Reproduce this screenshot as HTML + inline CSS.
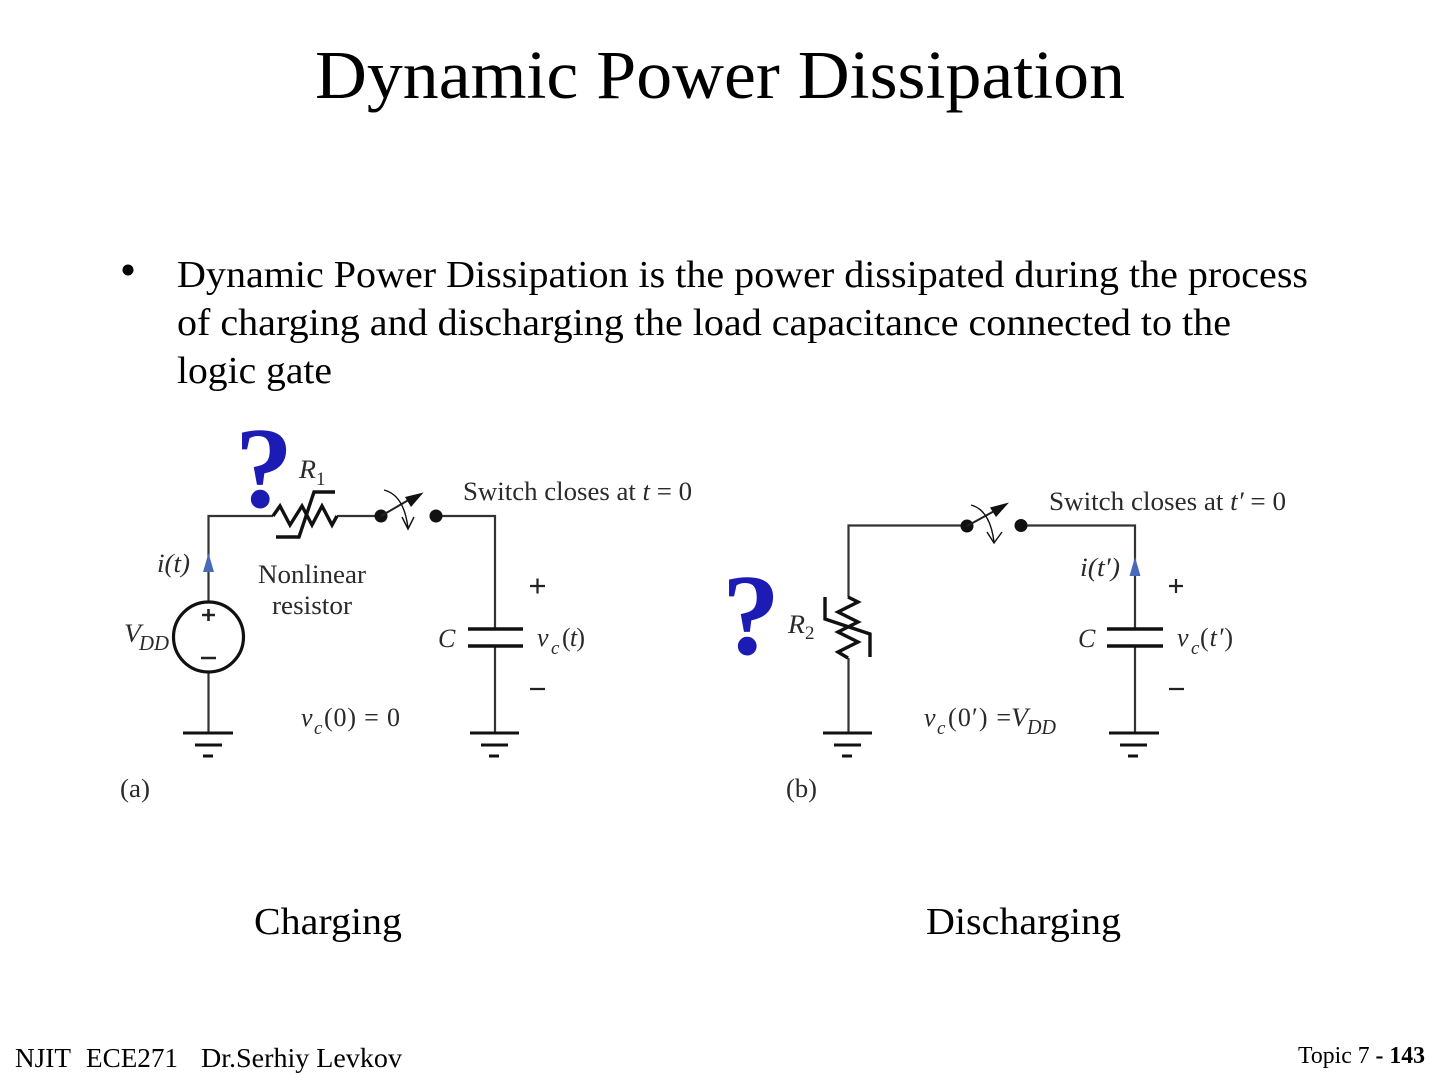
<!DOCTYPE html>
<html>
<head>
<meta charset="utf-8">
<title>Dynamic Power Dissipation</title>
<style>
html,body{margin:0;padding:0;background:#fff;}
svg{display:block;width:1440px;height:1080px;}
text{font-family:"Liberation Serif",serif;fill:#000;}
.d{filter:blur(.35px);}
.d text{fill:#2a2a2a;font-size:26px;}
.d text.s{font-size:19px;}
.d text.m{font-size:21px;}
.w{fill:none;stroke:#333;stroke-width:2.2;}
.t{fill:none;stroke:#111;stroke-width:3.4;}
.i{font-style:italic;}
</style>
</head>
<body>
<svg xmlns="http://www.w3.org/2000/svg" width="1440" height="1080" viewBox="0 0 1440 1080">
<rect width="1440" height="1080" fill="#fff"/>

<text x="315" y="98" font-size="69" textLength="810" lengthAdjust="spacingAndGlyphs">Dynamic Power Dissipation</text>
<circle cx="128" cy="270" r="5.5" fill="#000"/>
<text x="177" y="287" font-size="38" textLength="1131" lengthAdjust="spacingAndGlyphs">Dynamic Power Dissipation is the power dissipated during the process</text>
<text x="177" y="335" font-size="38" textLength="1054" lengthAdjust="spacingAndGlyphs">of charging and discharging the load capacitance connected to the</text>
<text x="177" y="383" font-size="38" textLength="155" lengthAdjust="spacingAndGlyphs">logic gate</text>

<g class="d">
  <!-- circuit a -->
  <path class="w" d="M208.5 601V516H273M337 516H381M436 516H495V629M495 646V733M208.5 672V733"/>
  <path class="t" d="M273 516L280 506L290 525L302 506L312 525L322 506L332 525L337 516"/>
  <path class="t" d="M276 537H299L314 492H335"/>
  <circle cx="381" cy="516" r="6.5" fill="#111"/>
  <circle cx="436" cy="516" r="6.5" fill="#111"/>
  <path d="M381 516L412 498" stroke="#222" stroke-width="2" fill="none"/>
  <path d="M423.500 492.500L405 497L411 507Z" fill="#111"/>
  <path d="M384 490Q404 495 408 528M402 517L408 529L414 517" fill="none" stroke="#111" stroke-width="1.400"/>
  <circle cx="208.500" cy="637" r="35" fill="none" stroke="#111" stroke-width="3.200"/>
  <path d="M202 615H215M208.500 609V621M201 658H216" stroke="#222" stroke-width="2.600" fill="none"/>
  <path d="M208.500 553L214 572H203Z" fill="#4a69b8"/>
  <path d="M468 629H523M468 646H523" stroke="#111" stroke-width="3.400"/>
  <path d="M183 733H233M195 745H222M203 756H213M470 733H519M481 745H508M489 756H499" stroke="#111" stroke-width="3"/>
  <path d="M530 586H545M537.500 578.500V593.500M530 689H545" stroke="#222" stroke-width="2.200"/>

  <text x="299" y="478" class="i" textLength="17" lengthAdjust="spacingAndGlyphs">R</text><text x="316" y="485" class="s">1</text>
  <text x="463" y="500" textLength="229" lengthAdjust="spacingAndGlyphs">Switch closes at <tspan class="i">t</tspan> = 0</text>
  <text x="157" y="572" class="i" textLength="33" lengthAdjust="spacingAndGlyphs">i(t)</text>
  <text x="258" y="583" textLength="108" lengthAdjust="spacingAndGlyphs">Nonlinear</text>
  <text x="272" y="614" textLength="80" lengthAdjust="spacingAndGlyphs">resistor</text>
  <text x="124" y="642" class="i" textLength="17" lengthAdjust="spacingAndGlyphs">V</text><text x="139" y="650" class="i m" textLength="30" lengthAdjust="spacingAndGlyphs">DD</text>
  <text x="438" y="647" class="i">C</text>
  <text x="537" y="646" class="i">v</text><text x="551" y="654" class="i s">c</text><text x="562" y="646" textLength="23" lengthAdjust="spacing">(<tspan class="i">t</tspan>)</text>
  <text x="301" y="726" class="i">v</text><text x="314" y="734" class="i s">c</text><text x="324" y="726" textLength="76" lengthAdjust="spacing">(0) = 0</text>
  <text x="120" y="797" textLength="30" lengthAdjust="spacingAndGlyphs">(a)</text>

  <!-- circuit b -->
  <path class="w" d="M848.500 597V525.500H967M1021 525.500H1135V629M1135 646V733M848.500 658V733"/>
  <path class="t" d="M848 597L858 602L838 612L858 622L838 632L858 642L838 652L848 658"/>
  <path class="t" d="M825 597V619L870 634V657"/>
  <circle cx="967" cy="526" r="6.500" fill="#111"/>
  <circle cx="1021" cy="525.500" r="6.500" fill="#111"/>
  <path d="M967 526L998 509" stroke="#222" stroke-width="2" fill="none"/>
  <path d="M1009 502.500L990 507.500L996 517Z" fill="#111"/>
  <path d="M971 505Q990 510 994 542M987 532L994 543L1002 532" fill="none" stroke="#111" stroke-width="1.400"/>
  <path d="M1135 557L1140.500 576H1129.500Z" fill="#4a69b8"/>
  <path d="M1107 629H1163M1107 646H1163" stroke="#111" stroke-width="3.400"/>
  <path d="M823 733H872M834 745H861M842 756H852M1109 733H1159M1120 745H1147M1128 756H1138" stroke="#111" stroke-width="3"/>
  <path d="M1169 586H1183M1176 579V593M1169 689H1184" stroke="#222" stroke-width="2.200"/>

  <text x="788" y="633" class="i" textLength="17" lengthAdjust="spacingAndGlyphs">R</text><text x="805" y="639" class="s">2</text>
  <text x="1049" y="510" textLength="237" lengthAdjust="spacingAndGlyphs">Switch closes at <tspan class="i">t′</tspan> = 0</text>
  <text x="1080" y="576" class="i" textLength="40" lengthAdjust="spacingAndGlyphs">i(t′)</text>
  <text x="1078" y="647" class="i">C</text>
  <text x="1177" y="646" class="i">v</text><text x="1191" y="654" class="i s">c</text><text x="1200" y="646" textLength="33" lengthAdjust="spacing">(<tspan class="i">t′</tspan>)</text>
  <text x="924" y="726" class="i">v</text><text x="937" y="734" class="i s">c</text><text x="948" y="726" textLength="63" lengthAdjust="spacing">(0′) =</text><text x="1011" y="726" class="i" textLength="17" lengthAdjust="spacingAndGlyphs">V</text><text x="1027" y="734" class="i m" textLength="29" lengthAdjust="spacingAndGlyphs">DD</text>
  <text x="786" y="797" textLength="31" lengthAdjust="spacingAndGlyphs">(b)</text>
</g>

<text x="235" y="507" font-size="116" font-weight="bold" style="fill:#1c1cb4">?</text>
<text x="722" y="654" font-size="116" font-weight="bold" style="fill:#1c1cb4">?</text>

<text x="254" y="934" font-size="38" textLength="148" lengthAdjust="spacingAndGlyphs">Charging</text>
<text x="926" y="934" font-size="38" textLength="195" lengthAdjust="spacingAndGlyphs">Discharging</text>

<text x="15" y="1067" font-size="27" textLength="56" lengthAdjust="spacingAndGlyphs">NJIT</text>
<text x="86" y="1067" font-size="27" textLength="92" lengthAdjust="spacingAndGlyphs">ECE271</text>
<text x="201" y="1067" font-size="27" textLength="201" lengthAdjust="spacingAndGlyphs">Dr.Serhiy Levkov</text>
<text x="1298" y="1063" font-size="24" textLength="127" lengthAdjust="spacingAndGlyphs">Topic 7 <tspan font-weight="bold">- 143</tspan></text>
</svg>
</body>
</html>
